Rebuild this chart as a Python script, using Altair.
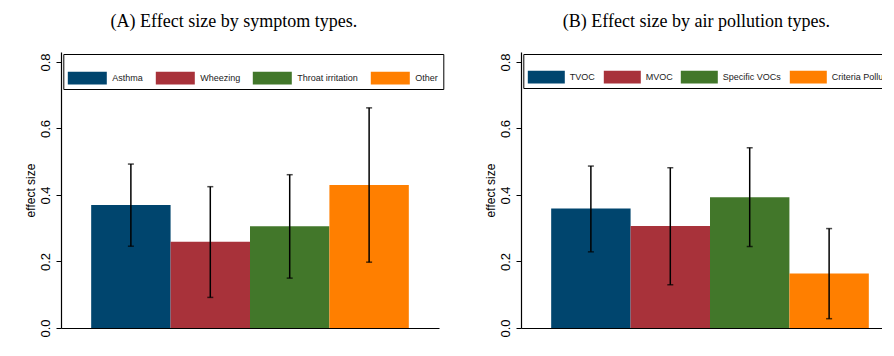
import altair as alt
import pandas as pd

symptoms = ["Asthma", "Wheezing", "Throat irritation", "Other"]
sym_es = [0.370, 0.259, 0.306, 0.430]
sym_lo = [0.246, 0.092, 0.150, 0.198]
sym_hi = [0.493, 0.425, 0.461, 0.662]

pollutants = ["TVOC", "MVOC", "Specific VOCs", "Criteria Pollutants"]
pol_es = [0.359, 0.307, 0.393, 0.164]
pol_lo = [0.229, 0.130, 0.245, 0.028]
pol_hi = [0.487, 0.482, 0.542, 0.299]

colors = ["#00456E", "#A8323A", "#42772A", "#FF7F00"]
yticks = [0.0, 0.2, 0.4, 0.6, 0.8]


def swatch_path(w, h):
    r = h / w
    return f"M-1,-{r:.4f}H1V{r:.4f}H-1Z"


def panel(cats, es, lo, hi, title, sw, off, colpad):
    df = pd.DataFrame({"cat": cats, "es": es, "lo": lo, "hi": hi})
    xenc = alt.X("cat:N", sort=cats, title=None,
                 scale=alt.Scale(paddingInner=0, paddingOuter=0.38),
                 axis=alt.Axis(labels=False, ticks=False, domain=True,
                               domainColor="black", domainWidth=1.2))
    bars = alt.Chart(df).mark_bar(strokeWidth=0).encode(
        x=xenc,
        y=alt.Y("es:Q", title="effect size",
                scale=alt.Scale(domain=[0, 0.83], nice=False, zero=True),
                axis=alt.Axis(values=yticks, format=".1f", labelAngle=-90,
                              labelAlign="center", labelBaseline="bottom",
                              labelFont="Liberation Sans", labelFontSize=13,
                              labelColor="black", labelPadding=3.5,
                              tickSize=5, tickColor="black", domainColor="black",
                              domainWidth=1.2, grid=False,
                              titleFont="Liberation Sans", titleFontSize=12,
                              titleFontWeight="normal", titleColor="black",
                              titlePadding=2.5)),
        color=alt.Color("cat:N", sort=cats,
                        scale=alt.Scale(domain=cats, range=colors),
                        legend=alt.Legend(
                            title=None, orient="none", legendX=2.3, legendY=2,
                            direction="horizontal", columns=4,
                            symbolType=swatch_path(sw, 12.7), symbolSize=sw * sw,
                            symbolStrokeWidth=0, symbolOpacity=1,
                            labelFont="Liberation Sans", labelFontSize=9,
                            labelColor="#222222", labelOffset=off,
                            columnPadding=colpad, padding=4.5,
                            strokeColor="black", fillColor="white",
                            labelLimit=200)),
    )
    err = alt.Chart(df).mark_errorbar(ticks=alt.MarkConfig(size=6, color="black"),
                                      color="black", thickness=1.5).encode(
        x=alt.X("cat:N", sort=cats),
        y=alt.Y("lo:Q", title="effect size"),
        y2="hi:Q",
    )
    return alt.layer(bars, err).properties(
        width=378, height=276,
        title=alt.TitleParams(title, font="Liberation Serif", fontSize=18,
                              fontWeight="normal", color="black", offset=21,
                              frame="bounds"),
    )


a = panel(symptoms, sym_es, sym_lo, sym_hi, "(A) Effect size by symptom types.",
          39, 5.5, 12)
b = panel(pollutants, pol_es, pol_lo, pol_hi, "(B) Effect size by air pollution types.",
          37, 5, 8)

chart = alt.hconcat(a, b, spacing=40).resolve_scale(
    color="independent", y="independent", x="independent"
).configure_view(stroke=None).properties(
    padding={"left": 16, "top": 5, "right": -27, "bottom": 3},
    background="white",
)

chart.save("out.html", embed_options={"renderer": "svg", "actions": False})
